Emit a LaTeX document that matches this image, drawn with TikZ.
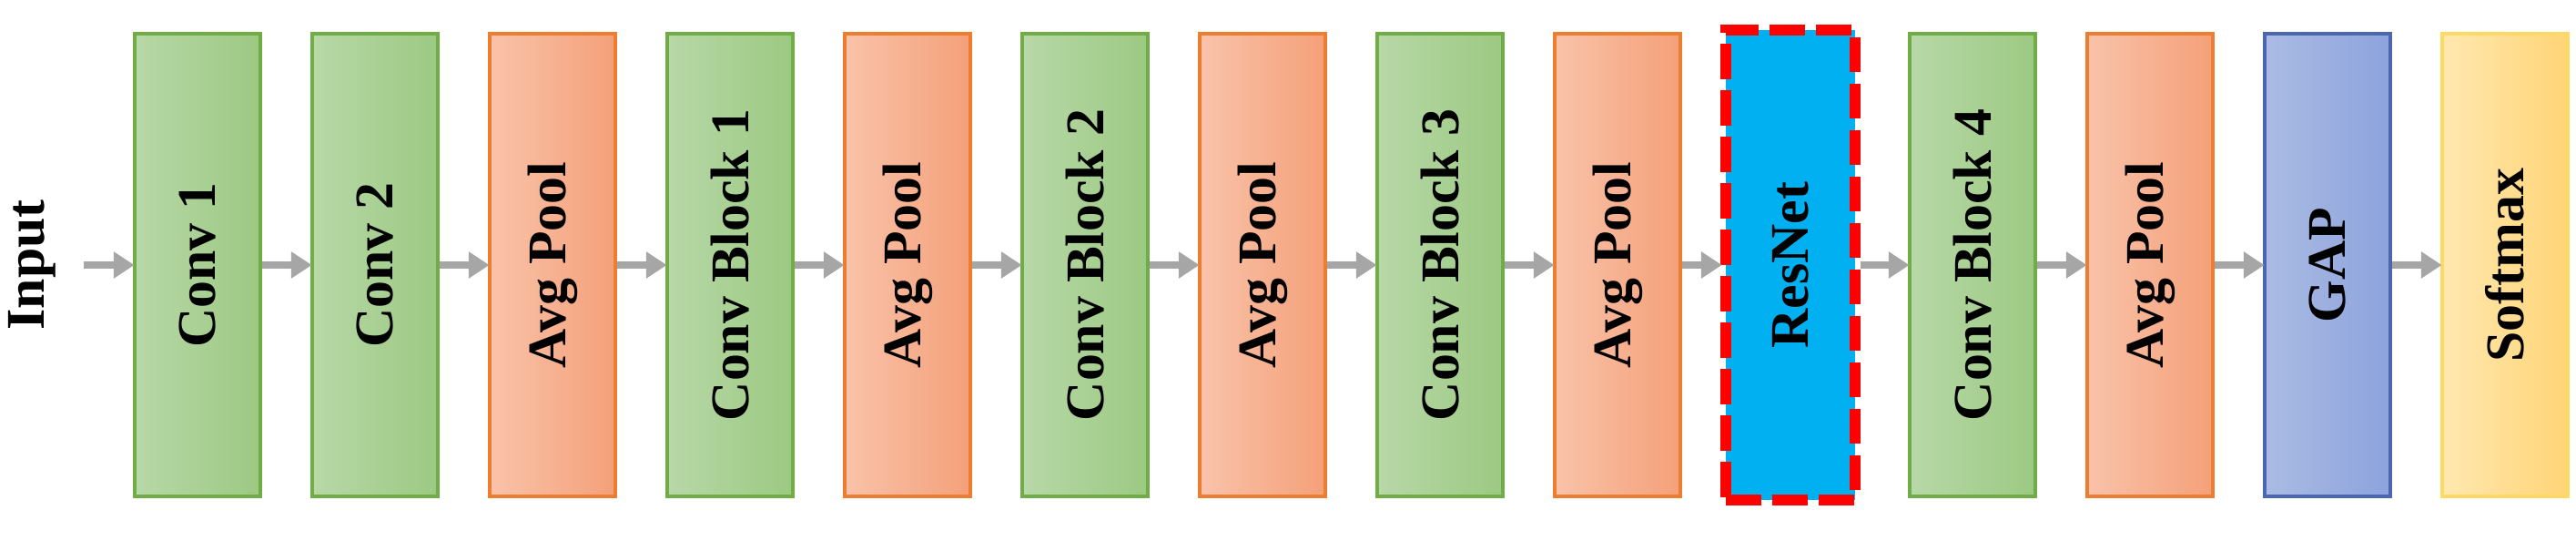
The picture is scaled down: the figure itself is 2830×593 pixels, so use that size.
\documentclass[tikz,border=0pt]{standalone}
\usepackage{fontspec}
\setmainfont{Liberation Serif}
\usetikzlibrary{arrows.meta}
\definecolor{gL}{HTML}{B8D8A8}\definecolor{gR}{HTML}{9CC982}\definecolor{gB}{HTML}{70AD47}
\definecolor{oL}{HTML}{F9C3AA}\definecolor{oR}{HTML}{F4A079}\definecolor{oB}{HTML}{ED7D31}
\definecolor{bL}{HTML}{ABBBE3}\definecolor{bR}{HTML}{8CA3DC}\definecolor{bB}{HTML}{4A67B0}
\definecolor{yL}{HTML}{FFE8B0}\definecolor{yR}{HTML}{FFD477}\definecolor{yB}{HTML}{FFD966}
\definecolor{rn}{HTML}{00B0F0}\definecolor{ar}{HTML}{A6A6A6}
\newcommand{\vtxt}[1]{\rotatebox{90}{\fontsize{17}{19}\selectfont\bfseries #1}}
\begin{document}
\begin{tikzpicture}[x=0.01cm,y=-0.01cm,
 blk/.style={minimum width=1.38cm,minimum height=5.08cm,inner sep=0,line width=1.2pt},
 green/.style={blk,left color=gL,right color=gR,draw=gB},
 orange/.style={blk,left color=oL,right color=oR,draw=oB},
 arr/.style={draw=ar,line width=2.4pt,-{Triangle[length=6.5pt,width=8pt]},shorten >=-0.5pt}]
\useasboundingbox (0,0) rectangle (2830,593);
\node[inner sep=0] (in) at (35,291) {\vtxt{Input}};
\coordinate (s) at (92,291);
\node[green] (b1) at (217,291) {\vtxt{Conv 1}};
\node[green] (b2) at (412,291) {\vtxt{Conv 2}};
\node[orange] (b3) at (607,291) {\vtxt{Avg Pool}};
\node[green] (b4) at (802,291) {\vtxt{Conv Block 1}};
\node[orange] (b5) at (997,291) {\vtxt{Avg Pool}};
\node[green] (b6) at (1192,291) {\vtxt{Conv Block 2}};
\node[orange] (b7) at (1387,291) {\vtxt{Avg Pool}};
\node[green] (b8) at (1582,291) {\vtxt{Conv Block 3}};
\node[orange] (b9) at (1777,291) {\vtxt{Avg Pool}};
\node[blk,fill=rn,draw=red,line width=3.4pt,dash pattern=on 11pt off 3.5pt,minimum width=1.42cm,minimum height=5.16cm] (b10) at (1967,291) {\vtxt{ResNet}};
\node[green] (b11) at (2167,291) {\vtxt{Conv Block 4}};
\node[orange] (b12) at (2362,291) {\vtxt{Avg Pool}};
\node[blk,left color=bL,right color=bR,draw=bB] (b13) at (2557,291) {\vtxt{GAP}};
\node[blk,left color=yL,right color=yR,draw=yB] (b14) at (2752,291) {\vtxt{Softmax}};
\draw[arr] (s) -- (b1);
\foreach \a/\b in {b1/b2,b2/b3,b3/b4,b4/b5,b5/b6,b6/b7,b7/b8,b8/b9,b9/b10,b10/b11,b11/b12,b12/b13,b13/b14}
  \draw[arr] (\a) -- (\b);
\end{tikzpicture}
\end{document}
